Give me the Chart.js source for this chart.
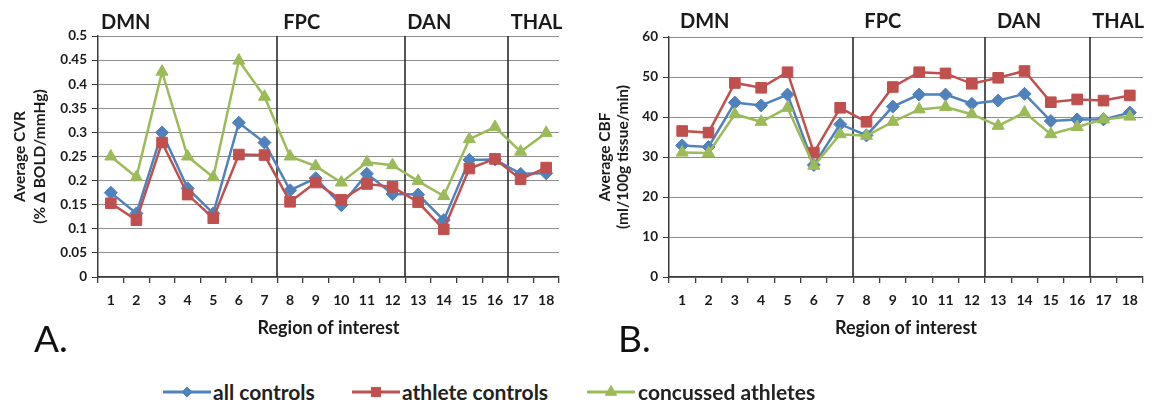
<!DOCTYPE html>
<html>
<head>
<meta charset="utf-8">
<script src="https://cdn.jsdelivr.net/npm/chart.js@4.4.1/dist/chart.umd.min.js"></script>
<style>
  html, body { margin: 0; padding: 0; background: #ffffff; }
  body { width: 1158px; height: 408px; position: relative; overflow: hidden; font-family: Lato, "Open Sans", sans-serif; }
  .box { position: absolute; top: 0; height: 345px; }
  #boxA { left: 0; width: 575px; }
  #boxB { left: 580px; width: 578px; }
  .panel { position: absolute; font-size: 37px; color: #111; line-height: 1; }
  #legend { position: absolute; top: 380px; left: 0; width: 1158px; height: 26px; font-weight: bold; font-size: 21px; color: #222; }
  #legend canvas, #legend span { position: absolute; top: 0; }
  #legend span { line-height: 24px; white-space: nowrap; }
</style>
</head>
<body>
<div class="box" id="boxA"><canvas id="cvrChart"></canvas></div>
<div class="box" id="boxB"><canvas id="cbfChart"></canvas></div>
<div class="panel" style="left:34px;top:319px;">A.</div>
<div class="panel" style="left:618px;top:319px;">B.</div>
<div id="legend"></div>

<script>
// ----------------- Datos -----------------

const regions = ['1', '2', '3', '4', '5', '6', '7', '8', '9', '10', '11', '12', '13', '14', '15', '16', '17', '18'];

const seriesNames = ['all controls', 'athlete controls', 'concussed athletes'];

// A. Average CVR (% Δ BOLD/mmHg)
const cvrAll = [0.175, 0.132, 0.300, 0.184, 0.132, 0.320, 0.279, 0.180, 0.205, 0.149, 0.214, 0.172, 0.171, 0.118, 0.243, 0.244, 0.214, 0.215];
const cvrAthlete = [0.153, 0.118, 0.279, 0.171, 0.122, 0.254, 0.253, 0.156, 0.196, 0.160, 0.193, 0.187, 0.155, 0.099, 0.225, 0.245, 0.203, 0.227];
const cvrConcussed = [0.250, 0.207, 0.426, 0.250, 0.207, 0.449, 0.374, 0.250, 0.230, 0.196, 0.238, 0.232, 0.199, 0.168, 0.286, 0.311, 0.260, 0.299];

// B. Average CBF (ml/100g tissue/min)
const cbfAll = [32.9, 32.5, 43.6, 42.9, 45.6, 28.0, 38.2, 35.4, 42.6, 45.6, 45.6, 43.3, 44.1, 45.8, 39.0, 39.4, 39.4, 41.1];
const cbfAthlete = [36.5, 36.1, 48.5, 47.3, 51.2, 31.1, 42.3, 38.8, 47.5, 51.2, 50.9, 48.3, 49.8, 51.5, 43.7, 44.4, 44.1, 45.4];
const cbfConcussed = [31.1, 31.0, 40.7, 38.8, 42.3, 27.8, 35.7, 35.3, 38.8, 41.9, 42.5, 40.7, 37.8, 41.1, 35.7, 37.5, 39.4, 40.1];

// redes y primer índice de cada una
const groupNames = ['DMN', 'FPC', 'DAN', 'THAL'];
const groupStarts = [0, 7, 12, 16];

// ----------------- Estilo -----------------

const palette = {
  blue: '#4f81bd',
  red: '#c0504d',
  green: '#9bbb59',
  grid: '#8e8e8e',
  axis: '#3a3a3a',
  text: '#1a1a1a'
};

const seriesColors = [palette.blue, palette.red, palette.green];
const seriesMarkers = ['rectRot', 'rect', 'triangle'];
const seriesRadius = [6.5, 7.5, 7];

const fontFamily = 'Lato, "Open Sans", sans-serif';

// ----------------- Plugin: separadores y nombres de red -----------------

const networkPlugin = {
  id: 'networks',
  beforeDatasetsDraw(chart, args, opts) {
    const { ctx, chartArea, scales: { x } } = chart;
    ctx.save();
    ctx.strokeStyle = '#1e1e1e';
    ctx.lineWidth = 1.5;
    for (let g = 1; g < groupStarts.length; g++) {
      const px = Math.round(x.getPixelForValue(groupStarts[g] - 0.5));
      ctx.beginPath();
      ctx.moveTo(px, chartArea.top);
      ctx.lineTo(px, chartArea.bottom);
      ctx.stroke();
    }
    ctx.restore();
  },
  afterDraw(chart, args, opts) {
    const { ctx, chartArea, scales: { x } } = chart;
    ctx.save();
    ctx.fillStyle = palette.text;
    ctx.font = `bold 20px ${fontFamily}`;
    ctx.textBaseline = 'middle';
    ctx.textAlign = 'left';
    groupNames.forEach((name, g) => {
      const base = g === 0 ? chartArea.left : x.getPixelForValue(groupStarts[g] - 0.5);
      ctx.fillText(name, base + opts.offsets[g], opts.labelY);
    });
    ctx.restore();
  }
};

// ----------------- Helpers -----------------

function buildDatasets(values) {
  return values.map((data, i) => ({
    label: seriesNames[i],
    data,
    borderColor: seriesColors[i],
    backgroundColor: seriesColors[i],
    pointBackgroundColor: seriesColors[i],
    pointBorderColor: seriesColors[i],
    pointStyle: seriesMarkers[i],
    pointRadius: seriesRadius[i],
    pointBorderWidth: 1,
    borderWidth: 2.5,
    tension: 0,
    order: 3 - i
  }));
}

function buildChart(canvasId, cfg) {
  const ctx = document.getElementById(canvasId).getContext('2d');
  return new Chart(ctx, {
    type: 'line',
    data: {
      labels: regions,
      datasets: buildDatasets(cfg.values)
    },
    plugins: [networkPlugin],
    options: {
      responsive: true,
      maintainAspectRatio: false,
      animation: false,
      layout: {
        padding: { top: cfg.top, right: cfg.right, left: 0, bottom: 0 }
      },
      plugins: {
        legend: { display: false },
        tooltip: { enabled: false },
        networks: { offsets: cfg.labelOffsets, labelY: cfg.labelY }
      },
      scales: {
        x: {
          type: 'category',
          offset: true,
          afterFit: (scale) => { scale.height = 345 - cfg.bottom; },
          grid: {
            offset: true,
            drawOnChartArea: false,
            drawTicks: true,
            tickLength: 6,
            tickColor: palette.axis,
            lineWidth: 1.3
          },
          border: { color: palette.axis, width: 1.5 },
          ticks: {
            autoSkip: false,
            maxRotation: 0,
            padding: 9,
            color: palette.text,
            font: { family: fontFamily, size: 14, weight: 'bold' }
          },
          title: {
            display: true,
            text: 'Region of interest',
            color: palette.text,
            padding: { top: 0, bottom: 6 },
            font: { family: fontFamily, size: 18, weight: 'bold' }
          }
        },
        y: {
          min: cfg.yMin,
          max: cfg.yMax,
          afterFit: (scale) => { scale.width = cfg.yWidth; },
          grid: {
            color: palette.grid,
            lineWidth: 1,
            drawTicks: true,
            tickLength: 6,
            tickColor: palette.axis
          },
          border: { color: palette.axis, width: 1.5 },
          ticks: {
            stepSize: cfg.step,
            padding: 5,
            color: palette.text,
            font: { family: fontFamily, size: 13.5, weight: 'bold' },
            callback: (v) => String(+Number(v).toFixed(2))
          },
          title: {
            display: true,
            text: cfg.yTitle,
            color: palette.text,
            padding: { top: cfg.titlePad, bottom: 0 },
            font: { family: fontFamily, size: 15.5, weight: 'bold', lineHeight: cfg.titleLine }
          }
        }
      }
    }
  });
}

// ----------------- Leyenda -----------------

const legendIconX = [163, 352, 587];
const legendTextX = [213, 402, 638];
const legendRadius = [5, 6.5, 6.5];

function drawLegendIcon(canvas, i) {
  const ctx = canvas.getContext('2d');
  const mid = canvas.height / 2;
  ctx.strokeStyle = seriesColors[i];
  ctx.lineWidth = 3;
  ctx.beginPath();
  ctx.moveTo(0, mid);
  ctx.lineTo(canvas.width, mid);
  ctx.stroke();
  ctx.fillStyle = seriesColors[i];
  ctx.lineWidth = 1;
  if (Chart.helpers && Chart.helpers.drawPoint) {
    Chart.helpers.drawPoint(ctx, { pointStyle: seriesMarkers[i], radius: legendRadius[i], rotation: 0, borderWidth: 1 }, canvas.width / 2, mid);
  }
}

function buildLegend() {
  const legend = document.getElementById('legend');
  seriesNames.forEach((name, i) => {
    const icon = document.createElement('canvas');
    icon.width = 48;
    icon.height = 24;
    icon.style.left = legendIconX[i] + 'px';
    drawLegendIcon(icon, i);
    const label = document.createElement('span');
    label.textContent = name;
    label.style.left = legendTextX[i] + 'px';
    legend.appendChild(icon);
    legend.appendChild(label);
  });
}

// ----------------- Init -----------------

buildChart('cvrChart', {
  values: [cvrAll, cvrAthlete, cvrConcussed],
  yMin: 0, yMax: 0.5, step: 0.05,
  yTitle: ['Average CVR', '(% \u0394 BOLD/mmHg)'],
  titlePad: 10, titleLine: 1.3,
  yWidth: 98, top: 36, right: 16, bottom: 277,
  labelOffsets: [3, 6, 2, 3], labelY: 23
});

buildChart('cbfChart', {
  values: [cbfAll, cbfAthlete, cbfConcussed],
  yMin: 0, yMax: 60, step: 10,
  yTitle: ['Average CBF', '(ml/100g tissue/min)'],
  titlePad: 16, titleLine: 1.16,
  yWidth: 89, top: 37, right: 15, bottom: 277,
  labelOffsets: [11, 11, 12, 2], labelY: 22
});

buildLegend();
</script>
</body>
</html>
